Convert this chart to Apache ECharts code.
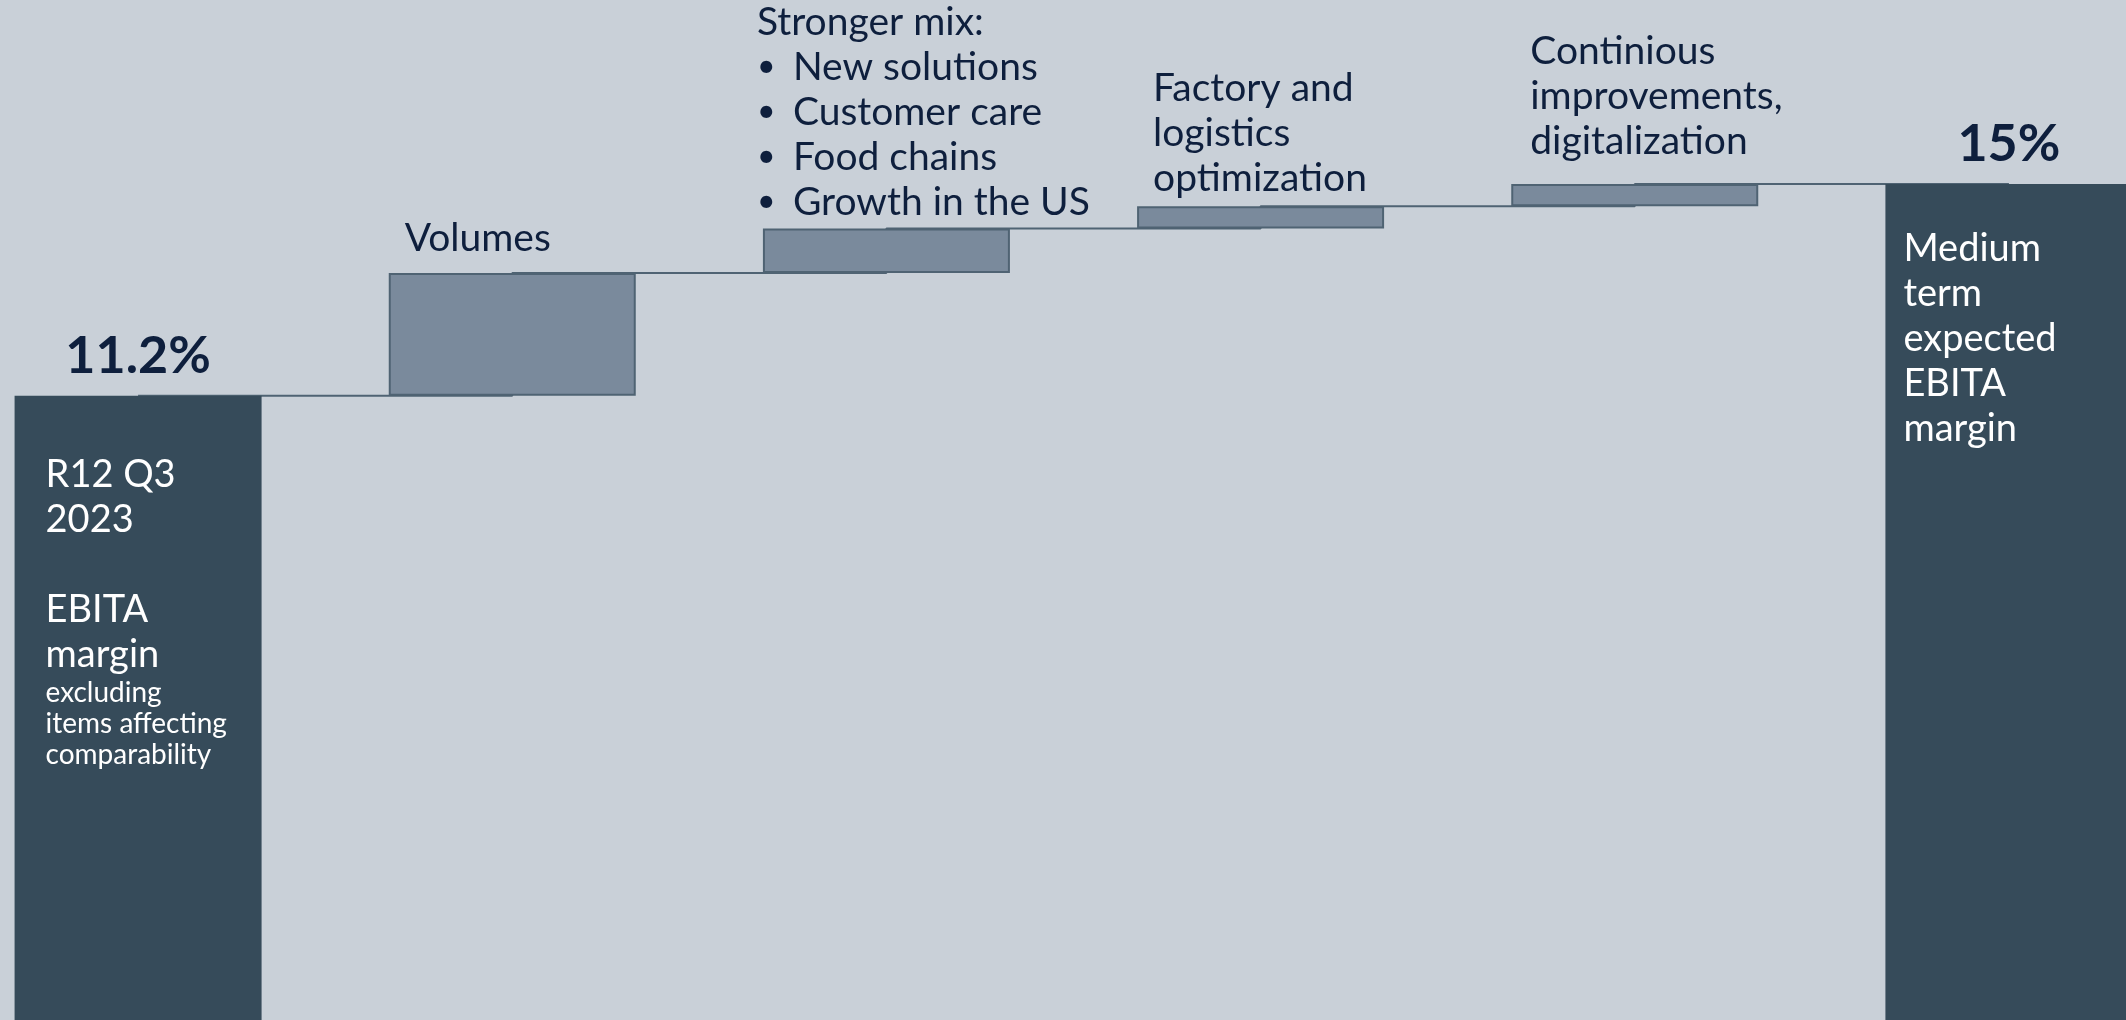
<!DOCTYPE html>
<html>
<head>
<meta charset="utf-8">
<script src="https://cdn.jsdelivr.net/npm/echarts@6/dist/echarts.min.js"></script>
<style>
html,body{margin:0;padding:0;background:#c9d0d8;overflow:hidden;width:2126px;height:1020px;}
#chart{position:absolute;left:-49px;top:0;width:2245px;height:1020px;}
</style>
</head>
<body>
<div id="chart"></div>
<script>
// ---- data ----
var categories = ['R12 Q3 2023', 'Volumes', 'Stronger mix', 'Factory and logistics optimization', 'Continious improvements, digitalization', 'Medium term'];
var startValue = 11.2;             // R12 Q3 2023 EBITA margin (%)
var deltas = [2.2, 0.8, 0.4, 0.4]; // contributions (pp)
var endValue = 15;                 // medium term expected EBITA margin (%)
var startLabel = '11.2%';
var endLabel = '15%';

// ---- derived ----
var levels = [startValue];
deltas.forEach(function (d) { levels.push(+(levels[levels.length - 1] + d).toFixed(2)); });
levels.push(endValue);
var baseData = [0].concat(levels.slice(0, deltas.length)).concat([0]);

var NAVY = '#0e1f3d';
var topLabelFmt = [
  '{t|Volumes}',
  '{t|Stronger mix:}\n{bl|•}{t|New solutions}\n{bl|•}{t|Customer care}\n{bl|•}{t|Food chains}\n{bl|•}{t|Growth in the US}',
  '{t|Factory and}\n{t|logistics}\n{t|optimization}',
  '{t|Continious}\n{t|improvements,}\n{t|digitalization}'
];
var topLabelPos = [[16, -12], [-6, -4], [16, -5], [19, -20]];
var richTop = {
  t: { fontFamily: 'Lato', fontSize: 39, color: NAVY, lineHeight: 45 },
  bl: { fontFamily: 'Lato', fontSize: 32, color: NAVY, lineHeight: 45, width: 36 }
};

var deltaData = ['-'].concat(deltas.map(function (d, i) {
  return {
    value: d,
    label: {
      show: true, position: topLabelPos[i], align: 'left', verticalAlign: 'bottom',
      formatter: topLabelFmt[i], rich: richTop
    }
  };
})).concat(['-']);

var richIn = {
  b: { fontFamily: 'Lato', fontSize: 38, color: '#ffffff', lineHeight: 45 },
  s: { fontFamily: 'Lato', fontSize: 28, color: '#ffffff', lineHeight: 31 }
};
var totalData = [
  { value: startValue, label: { show: true, position: [31, 57], align: 'left', verticalAlign: 'top', rich: richIn,
      formatter: '{b|R12 Q3}\n{b|2023}\n{b| }\n{b|EBITA}\n{b|margin}\n{s|excluding}\n{s|items affecting}\n{s|comparability}' } },
  '-', '-', '-', '-',
  { value: endValue, label: { show: true, position: [18, 42], align: 'left', verticalAlign: 'top', rich: richIn,
      formatter: '{b|Medium}\n{b|term}\n{b|expected}\n{b|EBITA}\n{b|margin}' } }
];
var valueLabelData = [startValue, '-', '-', '-', '-', endValue];

var chart = echarts.init(document.getElementById('chart'));
chart.setOption({
  backgroundColor: '#c9d0d8',
  animation: false,
  grid: { left: 0, right: 0, top: 0, bottom: 0, containLabel: false },
  xAxis: { type: 'category', data: categories, show: false },
  yAxis: { type: 'value', min: 0, max: 18.3, show: false },
  series: [
    {
      type: 'line', data: levels, step: 'end', symbol: 'none', z: 1,
      lineStyle: { color: '#4f6373', width: 2 }, silent: true
    },
    {
      type: 'bar', stack: 'w', data: baseData, barWidth: 247, z: 2,
      itemStyle: { color: 'transparent' }, silent: true
    },
    {
      type: 'bar', stack: 'w', data: deltaData, barWidth: 247, z: 3,
      itemStyle: { color: '#7a8a9c', borderColor: '#4f6373', borderWidth: 2 }
    },
    {
      type: 'bar', stack: 'w', data: totalData, barWidth: 247, z: 3,
      itemStyle: { color: '#364b5a' }
    },
    {
      // value labels above total bars
      type: 'bar', data: valueLabelData, barWidth: 247, barGap: '-100%', z: 4, silent: true,
      itemStyle: { color: 'transparent' },
      label: {
        show: true, position: 'top', distance: 14,
        formatter: function (p) { return p.dataIndex === 0 ? startLabel : endLabel; },
        fontFamily: 'Lato', fontWeight: 'bold', fontSize: 52, color: NAVY
      }
    }
  ]
});
</script>
</body>
</html>
